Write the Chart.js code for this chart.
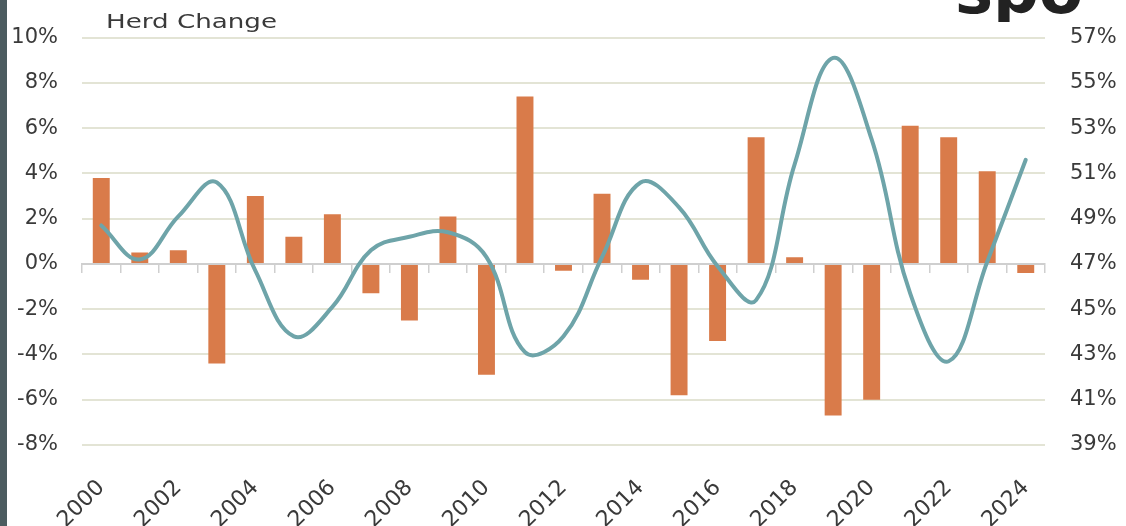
<!DOCTYPE html>
<html>
<head>
<meta charset="utf-8">
<script src="https://cdn.jsdelivr.net/npm/chart.js@4.4.1/dist/chart.umd.min.js"></script>
<style>
  html, body { margin: 0; padding: 0; background: #ffffff; overflow: hidden; }
  #wrap { width: 1126px; height: 526px; position: relative; }
</style>
</head>
<body>
<div id="wrap"><canvas id="chart" width="1126" height="526"></canvas></div>
<script>
// Categories
const years = ['2000','2001','2002','2003','2004','2005','2006','2007','2008','2009',
               '2010','2011','2012','2013','2014','2015','2016','2017','2018','2019',
               '2020','2021','2022','2023','2024'];

// Bars: yearly herd change, % (left axis)
const herdChange = [3.8, 0.5, 0.6, -4.4, 3.0, 1.2, 2.2, -1.3, -2.5, 2.1,
                    -4.9, 7.4, -0.3, 3.1, -0.7, -5.8, -3.4, 5.6, 0.3, -6.7,
                    -6.0, 6.1, 5.6, 4.1, -0.4];

// Line: share, % (right axis)
const shareValues = [48.7, 47.2, 49.1, 50.6, 46.7, 43.8, 45.1, 47.6, 48.2, 48.4,
                     47.3, 43.1, 43.8, 47.3, 50.6, 49.5, 46.9, 45.4, 51.4, 56.1,
                     52.5, 45.7, 42.7, 47.1, 51.6];

// Tick labels
const leftTicks = [-8, -6, -4, -2, 0, 2, 4, 6, 8, 10];
const rightTicks = [39, 41, 43, 45, 47, 49, 51, 53, 55, 57];
const shownYearLabels = ['2000','2002','2004','2006','2008','2010','2012',
                         '2014','2016','2018','2020','2022','2024'];

const titleText = 'Herd Change';
const logoText = 'spo';

const FONT = "'DejaVu Sans', sans-serif";
const TEXT = '#3a3a3a';
const GRID = '#e3e4d5';
const AXIS = '#cfcfcf';

const decor = {
  id: 'decor',
  beforeDraw(chart) {
    const ctx = chart.ctx;
    ctx.save();
    ctx.fillStyle = '#ffffff';
    ctx.fillRect(0, 0, chart.width, chart.height);
    ctx.fillStyle = '#4c5c60';
    ctx.fillRect(0, 0, 7, chart.height);
    ctx.restore();
  },
  afterDraw(chart) {
    const ctx = chart.ctx;
    // chart title, set in a wide face
    ctx.save();
    ctx.font = '19px ' + FONT;
    ctx.fillStyle = TEXT;
    ctx.textBaseline = 'alphabetic';
    const w = ctx.measureText(titleText).width;
    const sx = 171 / w;
    ctx.translate(106, 28);
    ctx.scale(sx, 1);
    ctx.fillText(titleText, 0, 0);
    ctx.restore();
    // brand mark running off the top edge
    ctx.save();
    ctx.beginPath();
    ctx.rect(900, 0, 226, 22);
    ctx.clip();
    ctx.font = 'bold 64px ' + FONT;
    ctx.fillStyle = '#222222';
    ctx.textBaseline = 'alphabetic';
    ctx.fillText(logoText, 955, 13);
    ctx.restore();
  }
};

new Chart(document.getElementById('chart'), {
  data: {
    labels: years,
    datasets: [
      {
        type: 'line',
        data: shareValues,
        yAxisID: 'y1',
        xAxisID: 'x',
        borderColor: '#6ea4a9',
        borderWidth: 4,
        pointRadius: 0,
        tension: 0.4,
        borderCapStyle: 'round',
        borderJoinStyle: 'round',
        fill: false,
        order: 0
      },
      {
        type: 'bar',
        data: herdChange,
        yAxisID: 'y',
        xAxisID: 'x',
        backgroundColor: '#d97b4a',
        borderWidth: 0,
        barPercentage: 0.44,
        categoryPercentage: 1.0,
        order: 1
      }
    ]
  },
  options: {
    responsive: false,
    animation: false,
    devicePixelRatio: 1,
    layout: { padding: { top: 35, left: 0, right: 0, bottom: 0 } },
    plugins: { legend: { display: false }, tooltip: { enabled: false }, title: { display: false } },
    scales: {
      x: {
        type: 'category',
        position: 'bottom',
        offset: true,
        grid: { display: false, drawTicks: false },
        border: { display: false },
        ticks: {
          autoSkip: false,
          minRotation: 45,
          maxRotation: 45,
          padding: 30,
          color: TEXT,
          font: { family: FONT, size: 22 },
          callback: (v, i) => shownYearLabels.includes(years[i]) ? years[i] : ''
        },
        afterFit: (s) => { s.height = 81; }
      },
      xZero: {
        type: 'category',
        axis: 'x',
        position: { y: 0 },
        offset: true,
        grid: { offset: true, drawOnChartArea: false, drawTicks: true, tickLength: 8, color: AXIS, lineWidth: 1.5 },
        border: { display: true, color: AXIS, width: 2 },
        ticks: { display: false }
      },
      y: {
        type: 'linear',
        position: 'left',
        min: leftTicks[0],
        max: leftTicks[leftTicks.length - 1],
        afterBuildTicks: (s) => { s.ticks = leftTicks.map(v => ({ value: v })); },
        grid: {
          drawTicks: false,
          lineWidth: 2,
          color: (c) => (c.tick && c.tick.value === 0) ? 'rgba(0,0,0,0)' : GRID
        },
        border: { display: false },
        ticks: {
          padding: 24,
          color: TEXT,
          font: { family: FONT, size: 21 },
          callback: (v) => v + '%'
        },
        afterFit: (s) => { s.width = 82; }
      },
      y1: {
        type: 'linear',
        position: 'right',
        min: rightTicks[0],
        max: rightTicks[rightTicks.length - 1],
        afterBuildTicks: (s) => { s.ticks = rightTicks.map(v => ({ value: v })); },
        grid: { drawOnChartArea: false, drawTicks: false },
        border: { display: false },
        ticks: {
          padding: 25,
          color: TEXT,
          font: { family: FONT, size: 21 },
          callback: (v) => v + '%'
        },
        afterFit: (s) => { s.width = 81; }
      }
    }
  },
  plugins: [decor]
});
</script>
</body>
</html>
